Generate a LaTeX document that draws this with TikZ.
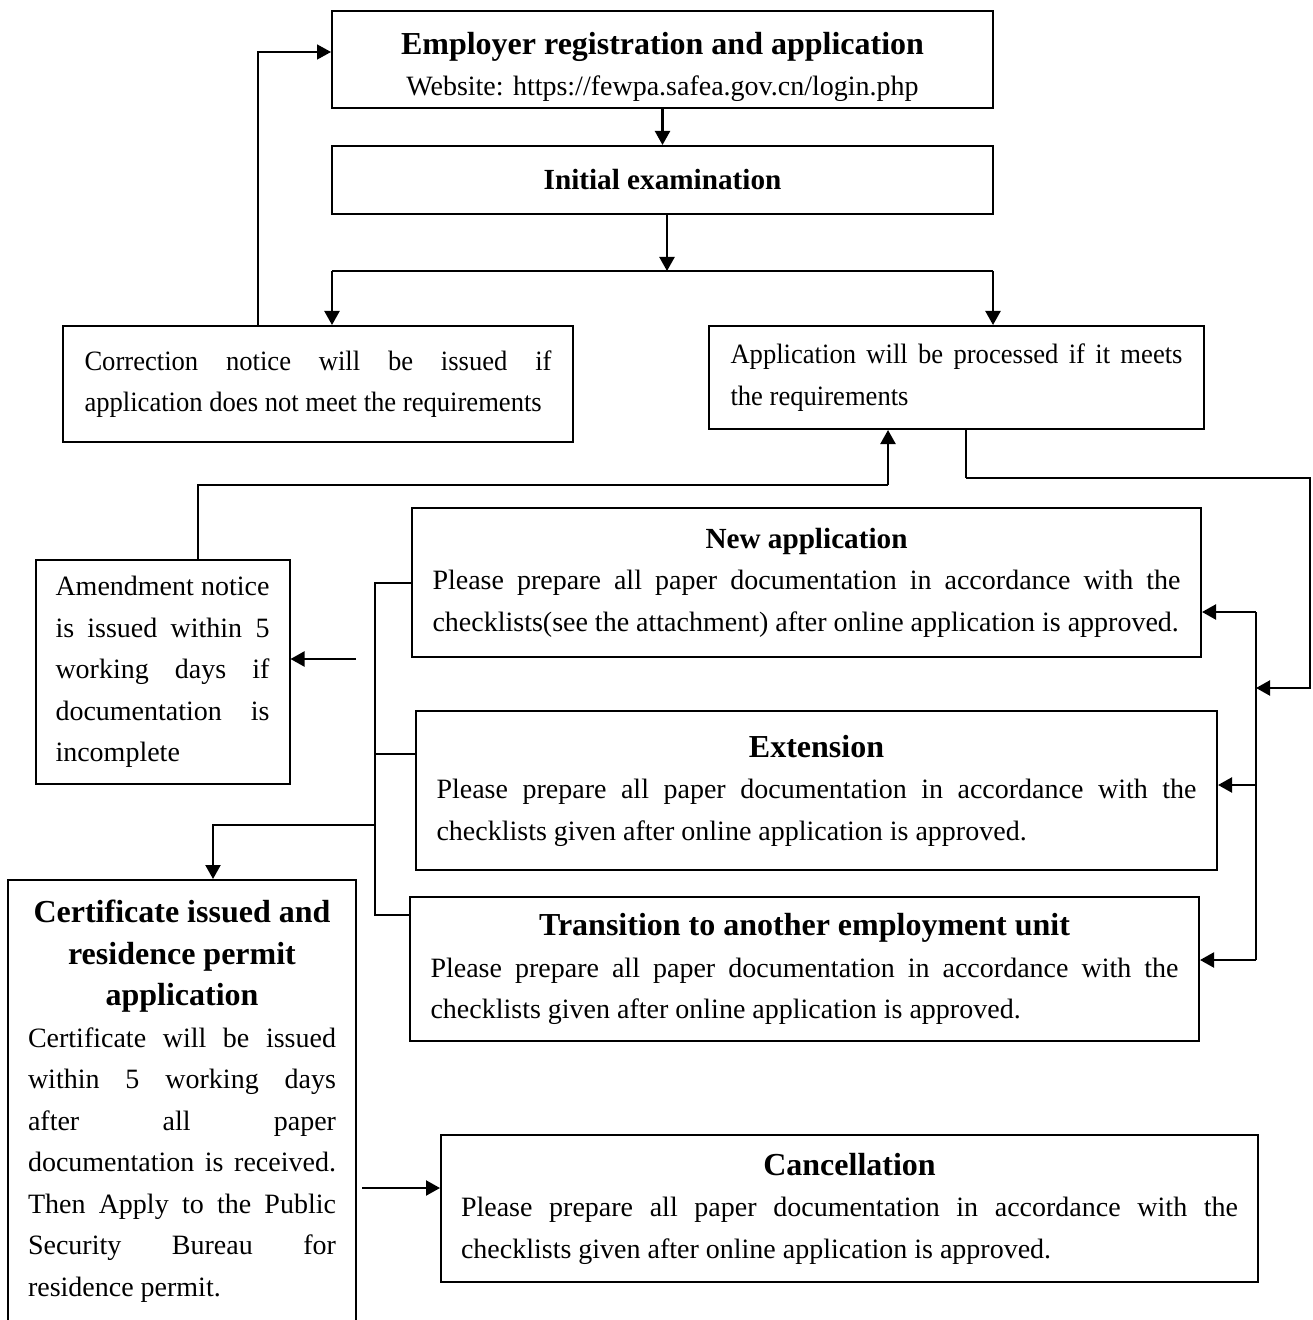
\documentclass[tikz,border=0pt]{standalone}
\usepackage{fontspec}
\setmainfont{Liberation Serif}
\newfontfamily\narrowserif[FakeStretch=0.95]{Liberation Serif}
\usepackage{tikz}
\usetikzlibrary{arrows.meta}
\newcommand{\bodyfont}{\fontsize{14}{20.75}\selectfont}
\newcommand{\narrowfont}{\narrowserif\fontsize{14}{20.75}\selectfont}
\newcommand{\headfont}{\fontsize{16}{20.75}\selectfont\bfseries}
\newcommand{\smallheadfont}{\fontsize{14.6}{20.75}\selectfont\bfseries}
\tolerance=10000
\hyphenpenalty=10000
\tikzset{
  stepbox/.style={draw,line width=1pt,inner xsep=10pt,font=\bodyfont,align=center},
  notebox/.style={draw,line width=1pt,inner xsep=10pt,font=\bodyfont,align=justify},
  flowarrow/.style={-{Triangle[length=7pt,width=7.5pt]},line width=1.1pt},
  thinarrow/.style={-{Triangle[length=7pt,width=7.5pt]},line width=0.7pt},
  flowline/.style={line width=1.1pt},
  thinline/.style={line width=0.6pt}
}
\begin{document}
\begin{tikzpicture}[x=0.5pt,y=-0.5pt]
  \useasboundingbox (0,0) rectangle (1312,1320);
  \clip (0,0) rectangle (1312,1320);
  \node[stepbox,minimum width=330.5pt,minimum height=48.5pt] (reg) at (662.5,59.5)
    {{\headfont\rule{0pt}{18.5pt}Employer registration and application}\\Website: https://fewpa.safea.gov.cn/login.php};
  \node[stepbox,minimum width=330.5pt,minimum height=34pt] (exam) at (662.5,180)
    {\smallheadfont Initial examination};
  \node[notebox,font=\narrowfont,text width=233.5pt,minimum width=255pt,minimum height=58pt] (corr) at (318,384)
    {Correction notice will be issued if\linebreak application does not meet the requirements};
  \node[notebox,font=\narrowfont,text width=226pt,minimum width=247.5pt,minimum height=51.5pt] (appl) at (956.5,377.5)
    {Application will be processed if it meets\linebreak the requirements};
  \node[notebox,text width=374pt,minimum width=394.5pt,minimum height=74.5pt] (new) at (806.5,582.5)
    {{\centering\smallheadfont New application\par}Please prepare all paper documentation in accordance with the\linebreak checklists(see the attachment) after online application is approved.};
  \node[notebox,text width=380pt,minimum width=400.5pt,minimum height=79.5pt] (ext) at (816.5,790.5)
    {{\centering\headfont Extension\par}Please prepare all paper documentation in accordance with the\linebreak checklists given after online application is approved.};
  \node[notebox,text width=374pt,minimum width=394.5pt,minimum height=72pt] (trans) at (804.5,969)
    {{\centering\headfont Transition to another employment unit\par}Please prepare all paper documentation in accordance with the\linebreak checklists given after online application is approved.};
  \node[notebox,text width=107pt,minimum width=126.5pt,minimum height=112pt] (amend) at (162.5,672)
    {Amendment notice\linebreak is issued within 5\linebreak working days if\linebreak documentation is\linebreak incomplete};
  \node[notebox,text width=154pt,minimum width=174pt,minimum height=221pt] (cert) at (182,1101)
    {{\centering\headfont Certificate issued and\\residence permit\\application\par}Certificate will be issued\linebreak within 5 working days\linebreak after all paper\linebreak documentation is received.\linebreak Then Apply to the Public\linebreak Security Bureau for\linebreak residence permit.};
  \node[notebox,text width=388.5pt,minimum width=408.5pt,minimum height=73.5pt] (cancel) at (849.5,1208.5)
    {{\centering\headfont Cancellation\par}Please prepare all paper documentation in accordance with the\linebreak checklists given after online application is approved.};
  \coordinate (split) at (667,271);
  \coordinate (barL) at (332,271);
  \coordinate (barR) at (993,271);
  \coordinate (loop) at (258,52);
  \coordinate (backL) at (198,485);
  \coordinate (backR) at (888,485);
  \coordinate (outA) at (966,478);
  \coordinate (outB) at (1310,478);
  \coordinate (outC) at (1310,688);
  \coordinate (spineM) at (1256,688);
  \coordinate (spineT) at (1256,612);
  \coordinate (spineE) at (1256,785);
  \coordinate (spineB) at (1256,960);
  \coordinate (brT) at (375,583);
  \coordinate (brE) at (375,754);
  \coordinate (brC) at (375,825);
  \coordinate (brB) at (375,915);
  \coordinate (certTop) at (213,825);
  \coordinate (amendIn) at (356,659);
  \coordinate (cancelIn) at (362,1188);
  \draw[flowarrow] (reg) -- (exam);
  \draw[flowarrow] (exam.south -| split) -- (split);
  \draw[flowline] (barL) -- (barR);
  \draw[flowarrow] (barL) -- (barL |- corr.north);
  \draw[flowarrow] (barR) -- (barR |- appl.north);
  \draw[thinarrow] (loop |- corr.north) -- (loop) -- (loop -| reg.west);
  \draw[thinline] (backL |- amend.north) -- (backL) -- (backR);
  \draw[flowarrow] (backR) -- (backR |- appl.south);
  \draw[thinline] (outA |- appl.south) -- (outA);
  \draw[flowarrow] (outA) -- (outB) -- (outC) -- (spineM);
  \draw[flowline] (spineT) -- (spineB);
  \draw[flowarrow] (spineT) -- (spineT -| new.east);
  \draw[flowarrow] (spineE) -- (spineE -| ext.east);
  \draw[flowarrow] (spineB) -- (spineB -| trans.east);
  \draw[flowline] (brT -| new.west) -- (brT) -- (brB) -- (brB -| trans.west);
  \draw[flowline] (brE) -- (brE -| ext.west);
  \draw[flowarrow] (brC) -- (certTop) -- (certTop |- cert.north);
  \draw[flowarrow] (amendIn) -- (amendIn -| amend.east);
  \draw[flowarrow] (cancelIn) -- (cancelIn -| cancel.west);
\end{tikzpicture}
\end{document}
